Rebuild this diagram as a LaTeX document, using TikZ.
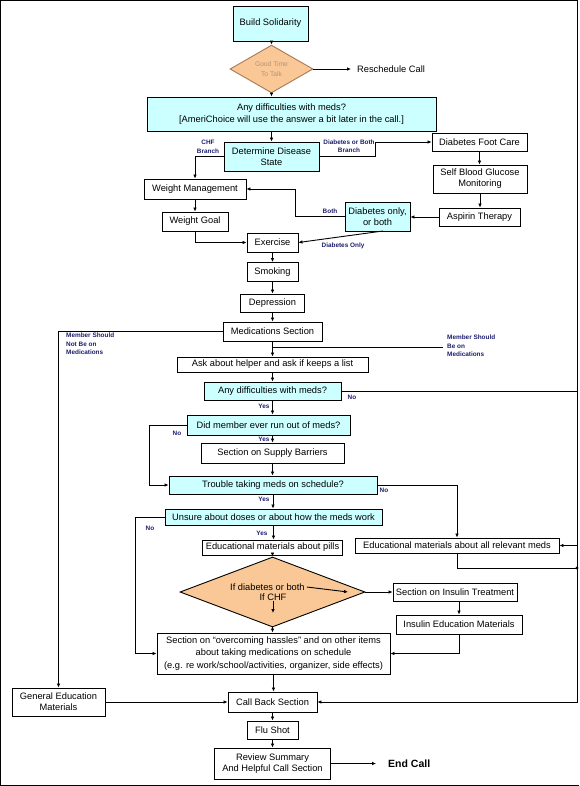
\documentclass[tikz,border=0pt]{standalone}
\usepackage{fontspec}
\setmainfont{Liberation Sans}
\usetikzlibrary{arrows.meta,shapes.geometric}
\definecolor{boxcyan}{RGB}{204,255,255}
\definecolor{peach}{RGB}{250,200,150}
\definecolor{peachline}{RGB}{170,120,80}
\definecolor{peachtext}{RGB}{178,148,118}
\definecolor{navy}{RGB}{30,30,110}
\begin{document}
\begin{tikzpicture}[x=1pt,y=-1pt,
  font=\fontsize{9.3}{11}\selectfont,
  bx/.style={draw=black, line width=0.9pt, fill=white, inner sep=0pt, align=center},
  cy/.style={bx, fill=boxcyan},
  arr/.style={-{Latex[length=4pt,width=3.6pt]}, line width=0.9pt},
  ln/.style={line width=0.9pt},
  lbl/.style={text=navy, font=\fontsize{6.4}{8.5}\selectfont\bfseries, inner sep=0pt, align=center},
]
\useasboundingbox (0,0) rectangle (579,786);

% nodes
\node[cy, minimum width=75pt, minimum height=35pt] (build) at (270.5,23.5) {Build Solidarity};
\node[diamond, draw=peachline, fill=peach, line width=0.9pt, minimum width=83pt, minimum height=42pt, inner sep=0pt, text=peachtext, font=\fontsize{6.7}{10}\selectfont, align=center] (good) at (271.5,69) {Good Time\\To Talk};
\node[inner sep=0pt, anchor=west] (resched) at (357,69) {Reschedule Call};
\node[cy, minimum width=289pt, minimum height=34pt, font=\fontsize{9.3}{11.5}\selectfont] (any1) at (291.5,114) {Any difficulties with meds?\\{[}AmeriChoice will use the answer a bit later in the call.{]}};
\node[cy, minimum width=95pt, minimum height=29pt] (det) at (271.5,156.5) {Determine Disease\\State};
\node[bx, minimum width=95pt, minimum height=18pt] (foot) at (479.5,142) {Diabetes Foot Care};
\node[bx, minimum width=94pt, minimum height=28pt] (sbgm) at (480,179) {Self Blood Glucose\\Monitoring};
\node[bx, minimum width=81pt, minimum height=18pt] (asp) at (479.5,217) {Aspirin Therapy};
\node[cy, minimum width=65pt, minimum height=29pt] (dob) at (377.5,216.5) {Diabetes only,\\or both};
\node[bx, minimum width=102pt, minimum height=20pt] (wm) at (195,189) {Weight Management};
\node[bx, minimum width=66pt, minimum height=19pt] (wg) at (195,221.5) {Weight Goal};
\node[bx, minimum width=51pt, minimum height=19pt] (ex) at (272.5,242.5) {Exercise};
\node[bx, minimum width=51pt, minimum height=19pt] (smk) at (272.5,272) {Smoking};
\node[bx, minimum width=64pt, minimum height=18pt] (dep) at (272.5,303) {Depression};
\node[bx, minimum width=99pt, minimum height=19pt] (med) at (272.5,331.5) {Medications Section};
\node[bx, minimum width=191pt, minimum height=15pt] (ask) at (272.5,364.5) {Ask about helper and ask if keeps a list};
\node[cy, minimum width=137pt, minimum height=18pt] (any2) at (272.5,391) {Any difficulties with meds?};
\node[cy, minimum width=163pt, minimum height=20pt] (did) at (268.5,425) {Did member ever run out of meds?};
\node[bx, minimum width=143pt, minimum height=20pt] (sup) at (272.5,453) {Section on Supply Barriers};
\node[cy, minimum width=208pt, minimum height=18pt] (trb) at (273,485) {Trouble taking meds on schedule?};
\node[cy, minimum width=217pt, minimum height=16pt] (uns) at (273.5,517) {Unsure about doses or about how the meds work};
\node[bx, minimum width=140pt, minimum height=15pt] (pil) at (272.5,547.5) {Educational materials about pills};
\node[bx, minimum width=204pt, minimum height=15pt] (all) at (457,545.5) {Educational materials about all relevant meds};
\node[diamond, draw=black, fill=peach, line width=0.9pt, minimum width=185pt, minimum height=70pt, inner sep=0pt] (dia) at (272.5,592) {};
\node[anchor=west, inner sep=0pt] (ifd) at (230,587) {If diabetes or both};
\node[inner sep=0pt] (ifc) at (273,597.5) {If CHF};
\coordinate (ifdt) at (348,592);
\coordinate (ifct) at (273,613);
\node[bx, minimum width=124pt, minimum height=18pt] (ins) at (455,592) {Section on Insulin Treatment};
\node[bx, minimum width=126pt, minimum height=19pt] (ined) at (459,624.5) {Insulin Education Materials};
\node[bx, minimum width=233pt, minimum height=41pt, font=\fontsize{9.3}{12.5}\selectfont] (has) at (273.5,653.5) {Section on “overcoming hassles” and on other items\\about taking medications on schedule\\(e.g. re work/school/activities, organizer, side effects)};
\node[bx, minimum width=93pt, minimum height=28pt] (gen) at (58.5,702) {General Education\\Materials};
\node[bx, minimum width=89pt, minimum height=20pt] (cb) at (272.5,702) {Call Back Section};
\node[bx, minimum width=51pt, minimum height=18pt] (flu) at (272.5,730) {Flu Shot};
\node[bx, minimum width=116pt, minimum height=31pt] (rev) at (272.5,763.5) {Review Summary\\And Helpful Call Section};
\node[anchor=west, inner sep=0pt, font=\fontsize{10.5}{12}\selectfont\bfseries] (endc) at (388,763.5) {End Call};

% coordinates
\coordinate (db1) at (375,156.5);
\coordinate (bt) at (295,216.5);
\coordinate (doo) at (383,231);
\coordinate (mb) at (443,347);
\coordinate (rA) at (577,391);
\coordinate (rB) at (577,545.5);
\coordinate (rC) at (577,568);
\coordinate (rD) at (577,702);
\coordinate (dn) at (149,425);
\coordinate (un) at (135,517);

% frame
\draw[line width=1pt] (rA) -- (577,0.5) -- (0.5,0.5) -- (0.5,785) -- (579,785);

% connectors
\draw[arr] (good.north |- build.south) -- (good.north);
\draw[arr, shorten >=6pt] (good.east) -- (resched.west);
\draw[arr] (good.south) -- (good.south |- any1.north);
\draw[arr] (det.north |- any1.south) -- (det.north);
\draw[arr] (det.west) -| (wm.north);
\draw[arr] (det.east) -- (db1) |- (foot.west);
\draw[arr] (foot.south) -- (foot.south |- sbgm.north);
\draw[arr] (sbgm.south) -- (sbgm.south |- asp.north);
\draw[arr] (asp.west) -- (asp.west -| dob.east);
\draw[arr] (dob.west) -- (bt) |- (wm.east);
\draw[arr] (doo) -- (ex.east);
\draw[arr] (wm.south) -- (wg.north);
\draw[arr] (wg.south) |- (ex.west);
\draw[arr] (ex.south) -- (smk.north);
\draw[arr] (smk.south) -- (dep.north);
\draw[arr] (dep.south) -- (med.north);
\draw[arr] (med.west) -| (gen.north);
\draw[ln] (mb) -- (mb -| med.south);
\draw[arr] (med.south) -- (ask.north);
\draw[arr] (ask.south) -- (any2.north);
\draw[arr] (any2.east) -- (rA) -- (rD) -- (cb.east);
\draw[arr] (rB) -- (all.east);
\draw[ln] (all.south) |- (rC);
\fill (rC) circle (1.6pt);
\draw[arr] (any2.south) -- (any2.south |- did.north);
\draw[arr] (did.west) -- (dn) |- (trb.west);
\draw[arr] (sup.north |- did.south) -- (sup.north);
\draw[arr] (sup.south) -- (sup.south |- trb.north);
\draw[arr] (trb.east) -| (all.north);
\draw[arr] (trb.south) -- (trb.south |- uns.north);
\draw[arr] (uns.west) -- (un) |- (has.west);
\draw[arr] (uns.south) -- (uns.south |- pil.north);
\draw[arr] (pil.south) -- (dia.north);
\draw[arr] ([xshift=2pt]ifd.east) -- (ifdt);
\draw[arr] (ifc.south) -- (ifct);
\draw[arr] (dia.east) -- (ins.west);
\draw[arr] (dia.south) -- (dia.south |- has.north);
\draw[arr] (ined.north |- ins.south) -- (ined.north);
\draw[arr] (ined.south) |- (has.east);
\draw[arr] (has.south) -- (has.south |- cb.north);
\draw[arr] (gen.east) -- (cb.west);
\draw[arr] (cb.south) -- (flu.north);
\draw[arr] (flu.south) -- (rev.north);
\draw[arr, shorten >=12pt] (rev.east) -- (endc.west);

% labels
\node[lbl] (l1) at (208,147) {CHF\\Branch};
\node[lbl] (l2) at (349,146) {Diabetes or Both\\Branch};
\node[lbl] (l3) at (330,211) {Both};
\node[lbl] (l4) at (343,246) {Diabetes Only};
\node[lbl, anchor=north west, align=left] (l5) at (66,333) {Member Should\\Not Be on\\Medications};
\node[lbl, anchor=north west, align=left] (l6) at (447,335) {Member Should\\Be on\\Medications};
\node[lbl] (l7) at (352,397) {No};
\node[lbl] (l8) at (264,406) {Yes};
\node[lbl] (l9) at (177,433) {No};
\node[lbl] (l10) at (264,439) {Yes};
\node[lbl] (l11) at (384,490) {No};
\node[lbl] (l12) at (264,499) {Yes};
\node[lbl] (l13) at (150,528) {No};
\node[lbl] (l14) at (262,533) {Yes};
\end{tikzpicture}
\end{document}
